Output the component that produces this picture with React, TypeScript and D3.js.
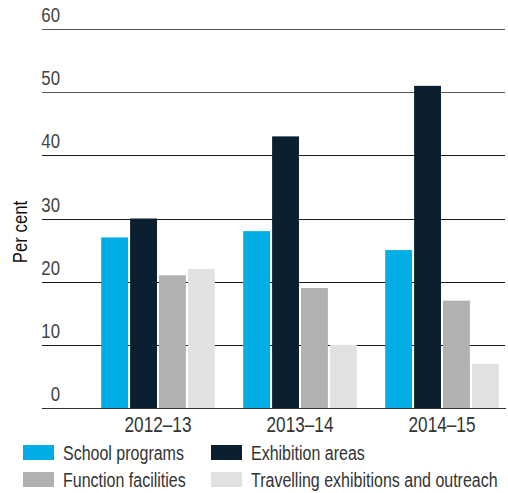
import React, { useEffect, useRef } from 'react';
import * as d3 from 'd3';

const categories = ['2012–13', '2013–14', '2014–15'];
const seriesNames = [
  'School programs',
  'Exhibition areas',
  'Function facilities',
  'Travelling exhibitions and outreach',
];
const schoolPrograms = [27, 28, 25];
const exhibitionAreas = [30, 43, 51];
const functionFacilities = [21, 19, 17];
const travelling = [22, 10, 7];
const yTicks = [0, 10, 20, 30, 40, 50, 60];
const colors = ['#00ade6', '#0b1f2e', '#b1b1b1', '#e1e1e1'];

// no narrow font installed, so squeeze Liberation Sans horizontally
const FONT = '"Liberation Sans", Arial, sans-serif';
const SQ = 0.8;

const App = () => {
  const ref = useRef<SVGSVGElement | null>(null);

  useEffect(() => {
    const svg = d3.select(ref.current);
    svg.selectAll('*').remove();

    const values = [schoolPrograms, exhibitionAreas, functionFacilities, travelling];
    const data = categories.map((c, i) => ({
      cat: c,
      vals: seriesNames.map((s, j) => ({ name: s, value: values[j][i], color: colors[j] })),
    }));

    const y = d3.scaleLinear().domain([0, 60]).range([408, 29]);
    const x0 = d3.scaleBand().domain(categories).range([87, 513]).paddingInner(0.2).paddingOuter(0.1);
    const x1 = d3.scaleBand().domain(seriesNames).range([0, x0.bandwidth()]).paddingInner(0.07);

    // gridlines
    svg
      .append('g')
      .selectAll('line')
      .data(yTicks)
      .enter()
      .append('line')
      .attr('x1', 42)
      .attr('x2', 505)
      .attr('y1', (d) => Math.round(y(d)) + 0.5)
      .attr('y2', (d) => Math.round(y(d)) + 0.5)
      .attr('stroke', (d) => (d >= 50 ? '#555' : '#1a1a1a'))
      .attr('stroke-width', 1.2);

    svg
      .append('g')
      .selectAll('text')
      .data(yTicks)
      .enter()
      .append('text')
      .attr('transform', (d) => `translate(60,${y(d) - 7}) scale(${SQ},1)`)
      .attr('text-anchor', 'end')
      .attr('font-family', FONT)
      .attr('font-size', 21)
      .attr('fill', '#444')
      .text((d) => d);

    // bars
    const groups = svg
      .append('g')
      .selectAll('g')
      .data(data)
      .enter()
      .append('g')
      .attr('transform', (d) => `translate(${x0(d.cat)},0)`);

    groups
      .selectAll('rect')
      .data((d) => d.vals)
      .enter()
      .append('rect')
      .attr('x', (d) => x1(d.name)!)
      .attr('y', (d) => y(d.value))
      .attr('width', x1.bandwidth())
      .attr('height', (d) => y(0) - y(d.value))
      .attr('fill', (d) => d.color);

    // axis line on top of bars
    svg
      .append('line')
      .attr('x1', 43)
      .attr('x2', 506)
      .attr('y1', y(0) + 0.5)
      .attr('y2', y(0) + 0.5)
      .attr('stroke', '#333')
      .attr('stroke-width', 1.2);

    svg
      .append('g')
      .selectAll('text')
      .data(categories)
      .enter()
      .append('text')
      .attr('transform', (d) => `translate(${x0(d)! + x0.bandwidth() / 2},432) scale(${SQ},1)`)
      .attr('text-anchor', 'middle')
      .attr('font-family', FONT)
      .attr('font-size', 21.5)
      .attr('fill', '#333')
      .text((d) => d);

    svg
      .append('text')
      .attr('transform', `translate(27,232) rotate(-90) scale(${SQ},1)`)
      .attr('text-anchor', 'middle')
      .attr('font-family', FONT)
      .attr('font-size', 21)
      .attr('fill', '#111')
      .text('Per cent');

    // legend, two columns
    const legend = svg
      .append('g')
      .selectAll('g')
      .data(seriesNames)
      .enter()
      .append('g')
      .attr('transform', (d, i) => `translate(${i % 2 === 0 ? 23 : 211},${i < 2 ? 445 : 472})`);

    legend
      .append('rect')
      .attr('width', 31)
      .attr('height', 15)
      .attr('fill', (d, i) => colors[i]);

    legend
      .append('text')
      .attr('transform', `translate(40,15) scale(${SQ},1)`)
      .attr('font-family', FONT)
      .attr('font-size', 20)
      .attr('fill', '#333')
      .text((d) => d);
  }, []);

  return (
    <svg
      ref={ref}
      width={508}
      height={493}
      style={{ position: 'absolute', left: 0, top: 0, background: '#fff' }}
    />
  );
};

export default App;
